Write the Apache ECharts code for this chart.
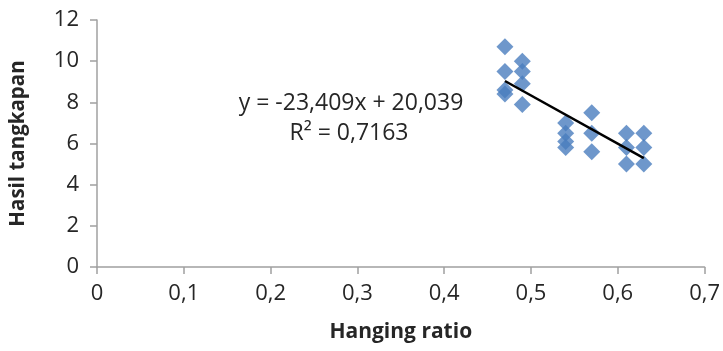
<!DOCTYPE html>
<html>
<head>
<meta charset="utf-8">
<script src="https://cdn.jsdelivr.net/npm/echarts@6/dist/echarts.min.js"></script>
<style>html,body{margin:0;padding:0;background:#fff}#c{width:723px;height:351px}</style>
</head>
<body>
<div id="c"></div>
<script>
// Data
const hangingRatio = [0.47,0.47,0.47,0.47, 0.49,0.49,0.49,0.49, 0.54,0.54,0.54,0.54, 0.57,0.57,0.57, 0.61,0.61,0.61, 0.63,0.63,0.63];
const hasilTangkapan = [10.7,9.5,8.6,8.4, 10.0,9.5,8.9,7.9, 7.0,6.5,6.1,5.8, 7.5,6.5,5.6, 6.5,5.8,5.0, 6.5,5.8,5.0];
const trendSlope = -23.409;
const trendIntercept = 20.039;
const trendRange = [0.47, 0.63];
const xTicks = ['0','0,1','0,2','0,3','0,4','0,5','0,6','0,7'];
const eqLine1 = 'y = -23,409x + 20,039';
const eqLine2 = 'R² = 0,7163';

const points = hangingRatio.map((x,i)=>[x, hasilTangkapan[i]]);
const trend = trendRange.map(x=>[x, trendSlope*x + trendIntercept]);
const font = '"Open Sans", sans-serif';

const chart = echarts.init(document.getElementById('c'));
chart.setOption({
  animation:false,
  grid:{left:97, right:15, top:20, bottom:84},
  xAxis:{
    type:'value', min:0, max:0.7, interval:0.1,
    name:'Hanging ratio', nameLocation:'middle', nameGap:55,
    nameTextStyle:{fontFamily:font, fontWeight:'bold', fontSize:21, color:'#262626'},
    axisLine:{show:true, lineStyle:{color:'#A0A0A0', width:1.5}},
    axisTick:{show:true, length:7, inside:false, lineStyle:{color:'#A0A0A0', width:1.5}},
    axisLabel:{fontFamily:font, fontSize:22, color:'#262626', margin:16,
      formatter:(v)=>xTicks[Math.round(v*10)]},
    splitLine:{show:false}
  },
  yAxis:{
    type:'value', min:0, max:12, interval:2,
    name:'Hasil tangkapan', nameLocation:'middle', nameGap:68, nameRotate:90,
    nameTextStyle:{fontFamily:font, fontWeight:'bold', fontSize:20.5, color:'#262626'},
    axisLine:{show:true, lineStyle:{color:'#A0A0A0', width:1.5}},
    axisTick:{show:true, length:7, lineStyle:{color:'#A0A0A0', width:1.5}},
    axisLabel:{fontFamily:font, fontSize:22, color:'#262626', margin:18},
    splitLine:{show:false}
  },
  series:[
    {type:'scatter', data:points, symbol:'diamond', symbolSize:[17,17],
     itemStyle:{color:'#4A7DBE'}, z:2},
    {type:'line', data:trend, symbol:'none', lineStyle:{color:'#000', width:2.5}, z:3}
  ],
  graphic:[
    {type:'text', x:351, y:103, style:{text:eqLine1, fontFamily:font, fontSize:23, fill:'#262626', align:'center', verticalAlign:'middle'}},
    {type:'text', x:349, y:133, style:{text:eqLine2, fontFamily:font, fontSize:23, fill:'#262626', align:'center', verticalAlign:'middle'}}
  ]
});
</script>
</body>
</html>
